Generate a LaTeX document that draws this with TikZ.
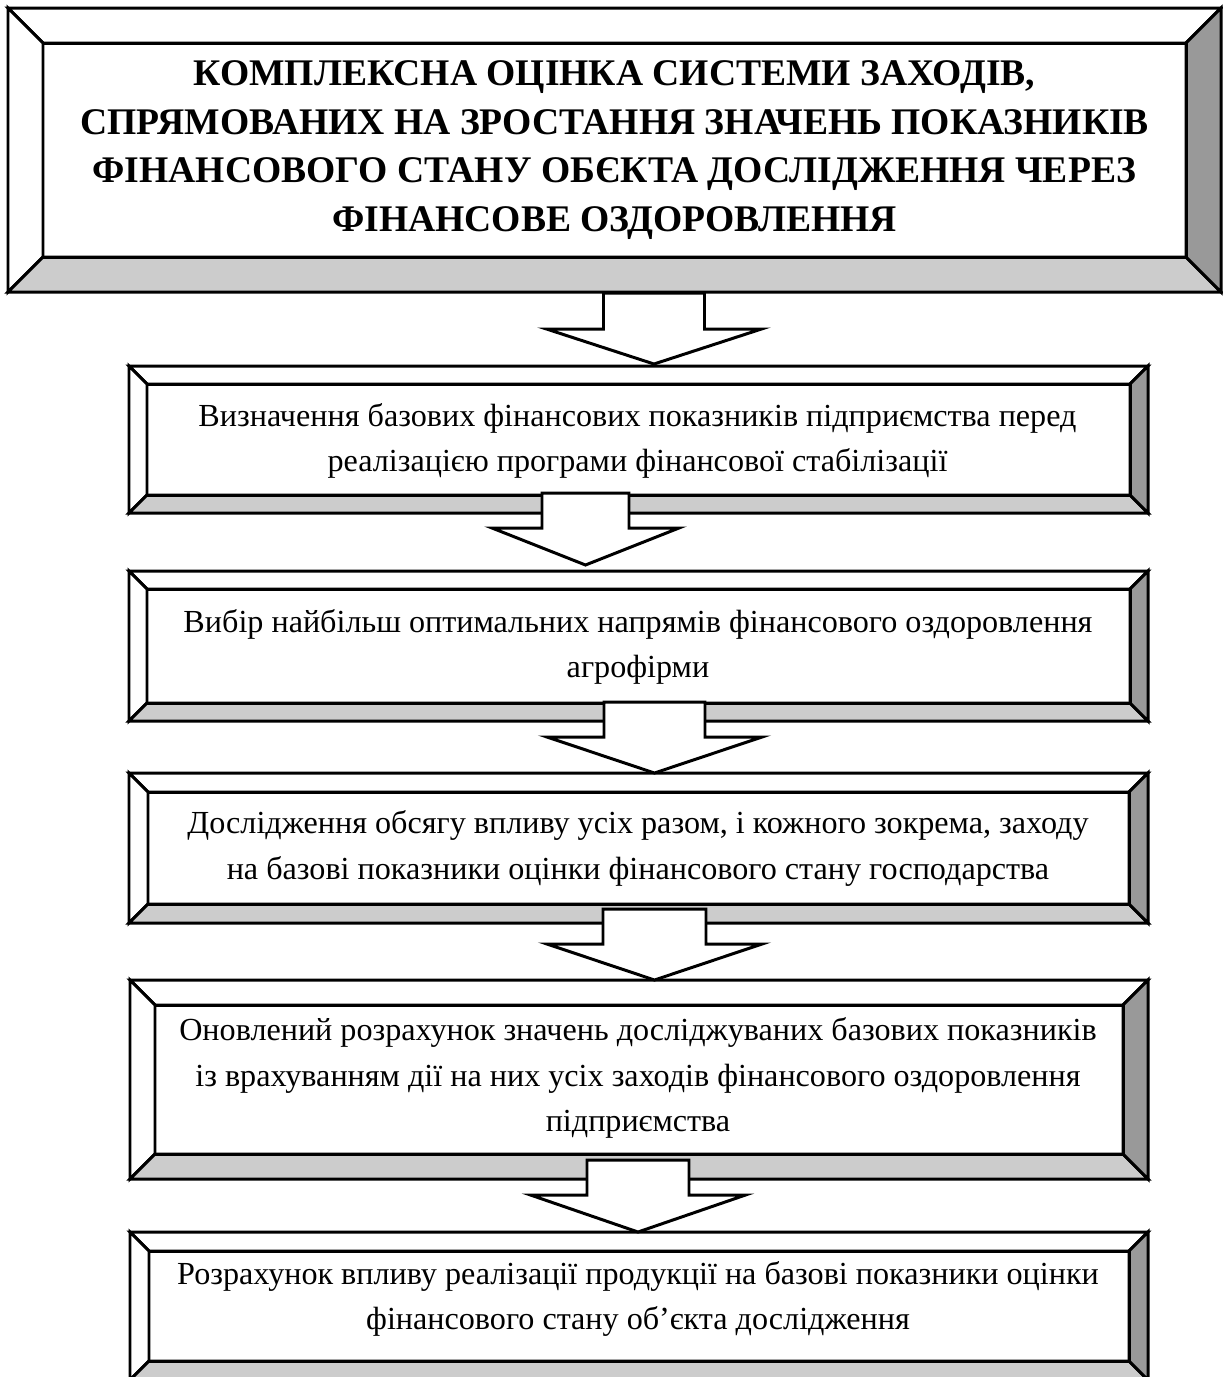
\documentclass[tikz,border=0pt]{standalone}
\usepackage{fontspec}
\setmainfont{Liberation Serif}[BoldFont={Liberation Serif Bold},ItalicFont={Liberation Serif Italic}]
\usetikzlibrary{calc}
\definecolor{bevlight}{HTML}{CCCCCC}
\definecolor{bevdark}{HTML}{999999}
\tikzset{
  edge/.style={draw=black,line width=1.7pt,line join=miter},
  ttl/.style={font=\bfseries\fontsize{21.4pt}{27.8pt}\selectfont,align=center,inner sep=0pt},
  txt/.style={font=\fontsize{18.3pt}{26pt}\selectfont,align=center,inner sep=0pt},
}
% bevelled box: name, x1, y1, x2, y2, bevel
\newcommand\bevbox[6]{%
  \coordinate (#1nw) at (#2,#3);
  \coordinate (#1se) at (#4,#5);
  \filldraw[edge,fill=white] (#2,#3) -- (#4,#3) -- ({#4-#6},{#3+#6}) -- ({#2+#6},{#3+#6}) -- cycle;
  \filldraw[edge,fill=white] (#2,#3) -- ({#2+#6},{#3+#6}) -- ({#2+#6},{#5-#6}) -- (#2,#5) -- cycle;
  \filldraw[edge,fill=bevlight] (#2,#5) -- ({#2+#6},{#5-#6}) -- ({#4-#6},{#5-#6}) -- (#4,#5) -- cycle;
  \filldraw[edge,fill=bevdark] (#4,#3) -- (#4,#5) -- ({#4-#6},{#5-#6}) -- ({#4-#6},{#3+#6}) -- cycle;
  \draw[edge] ({#2+#6},{#3+#6}) rectangle ({#4-#6},{#5-#6});
}
% block arrow: name, cx, top, wing, tip, shaft half, head half
\newcommand\blockarrow[7]{%
  \coordinate (#1top) at (#2,#3);
  \coordinate (#1tip) at (#2,#5);
  \filldraw[edge,fill=white] ({#2-#6},#3) -- ({#2+#6},#3) -- ({#2+#6},#4) -- ({#2+#7},#4)
     -- (#1tip) -- ({#2-#7},#4) -- ({#2-#6},#4) -- cycle;
}
\begin{document}
\begin{tikzpicture}[x=0.02cm,y=-0.02cm]
\useasboundingbox (0,0) rectangle (1223,1377);
\clip (0,0) rectangle (1223,1377);

\bevbox{b1}{8}{8}{1221}{292}{35}
\node[ttl] (t1) at (614.5,150) {КОМПЛЕКСНА ОЦІНКА СИСТЕМИ ЗАХОДІВ,\\СПРЯМОВАНИХ НА ЗРОСТАННЯ ЗНАЧЕНЬ ПОКАЗНИКІВ\\ФІНАНСОВОГО СТАНУ ОБЄКТА ДОСЛІДЖЕННЯ ЧЕРЕЗ\\ФІНАНСОВЕ ОЗДОРОВЛЕННЯ};

\bevbox{b2}{129}{366}{1148}{513}{18}
\node[txt] (t2) at (637.5,441) {Визначення базових фінансових показників підприємства перед\\реалізацією програми фінансової стабілізації};

\bevbox{b3}{129}{571}{1148}{721}{18}
\node[txt] (t3) at (638,647) {Вибір найбільш оптимальних напрямів фінансового оздоровлення\\агрофірми};

\bevbox{b4}{129}{773}{1148}{923}{19}
\node[txt] (t4) at (638,848.5) {Дослідження обсягу впливу усіх разом, і кожного зокрема, заходу\\на базові показники оцінки фінансового стану господарства};

\bevbox{b5}{130}{980}{1148}{1179}{25}
\node[txt] (t5) at (638,1078) {Оновлений розрахунок значень досліджуваних базових показників\\із врахуванням дії на них усіх заходів фінансового оздоровлення\\підприємства};

\bevbox{b6}{130}{1232}{1148}{1380}{19}
\node[txt] (t6) at (638,1299) {Розрахунок впливу реалізації продукції на базові показники оцінки\\фінансового стану об’єкта дослідження};

\blockarrow{a1}{654}{293}{329}{364}{50.5}{107.5}
\blockarrow{a2}{585.5}{493}{528}{565}{43.5}{93.5}
\blockarrow{a3}{654.5}{702}{737}{773}{50.5}{107.5}
\blockarrow{a4}{654.5}{909}{944}{980}{51.5}{107.5}
\blockarrow{a5}{638}{1160}{1195}{1232}{51}{107.5}
\end{tikzpicture}
\end{document}
